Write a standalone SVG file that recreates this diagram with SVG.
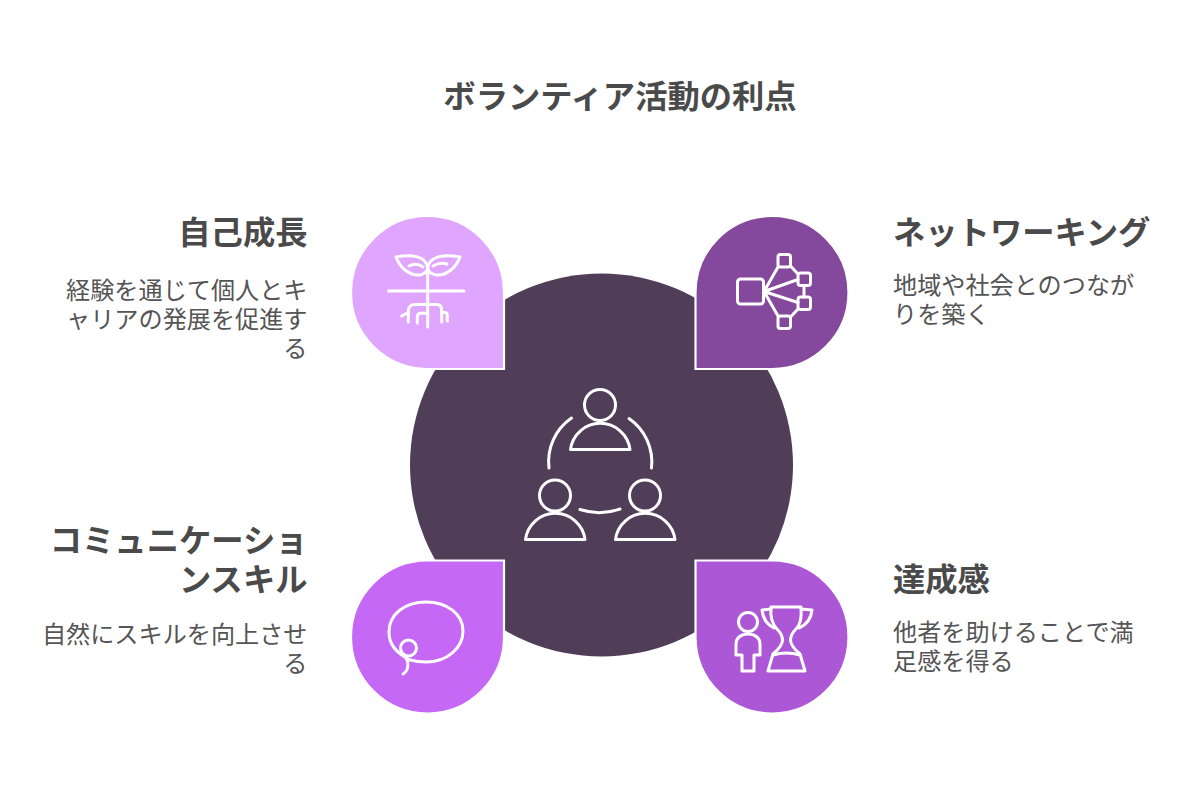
<svg xmlns="http://www.w3.org/2000/svg" width="1200" height="802" viewBox="0 0 1200 802">
<style>
text{font-family:"Noto Sans CJK JP","Noto Sans",sans-serif}
.t{font-size:32.3px;font-weight:700;fill:#4a4a4a}
.b{font-size:24.15px;font-weight:400;fill:#555}
.e{text-anchor:end}
.p{stroke:#fff;stroke-width:2.2}
.i{fill:none;stroke:#fff;stroke-width:3;stroke-linecap:round;stroke-linejoin:round}
</style>
<rect width="1200" height="802" fill="#fff"/>
<text id="title" class="t" x="620" y="108" text-anchor="middle">ボランティア活動の利点</text>
<g id="center">
<circle cx="601.500" cy="465" r="191.500" fill="#503d57"/>
<g class="i">
<circle cx="600" cy="405" r="15.500"/>
<path d="M570.500 449.500A30 30 0 0 1 630 449.500Z"/>
<circle cx="555" cy="495.500" r="15.500"/>
<path d="M525.500 539.500A30 30 0 0 1 585 539.500Z"/>
<circle cx="645" cy="495.500" r="15.500"/>
<path d="M615.500 539.500A30 30 0 0 1 675 539.500Z"/>
<path d="M549 468A53 53 0 0 1 571.500 418"/>
<path d="M629 418.500A53 53 0 0 1 651.500 468"/>
<path d="M580 509.500Q600 516 620 509"/>
</g>
</g>
<g id="node-growth">
<path class="p" fill="#e0a6ff" d="M504 292.500A76.500 76.500 0 1 0 427.500 369H504Z"/>
<g class="i">
<path d="M388.500 291H464"/>
<path d="M427.700 268V327"/>
<path d="M427.700 268C426 256 412 254 396 257C400 268 410 276 420 275C425 274 427 272 427.700 268Z"/>
<path d="M427.700 268C429 256 444 254 460 257C456 268 446 276 436 275C431 274 428.500 272 427.700 268Z"/>
<path d="M409 266Q416 262 423 267"/>
<path d="M433 266Q440 262 447 264"/>
<path d="M408.300 322V311C408.300 307 411 304.500 415 304.500H437C440 304.500 441.700 307 441.700 311V322"/>
<path d="M401.700 316L408.300 312.500M441.700 312.500H445C446.500 312.500 447.300 314 447.300 316V321"/>
<path d="M417.300 323V317C417.300 315 418.500 313.300 421 313.300H427.700"/>
</g>
<text class="t e" x="307.500" y="244">自己成長</text>
<text class="b e" x="307.500" y="299">経験を通じて個人とキ</text>
<text class="b e" x="307.500" y="328">ャリアの発展を促進す</text>
<text class="b e" x="307.500" y="357">る</text>
</g>
<g id="node-network">
<path class="p" fill="#84489c" d="M695.500 292.500A76.500 76.500 0 1 1 772 369H695.500Z"/>
<g class="i">
<rect x="737.500" y="279" width="26" height="25" rx="3"/>
<rect x="778" y="254.500" width="12.500" height="12.500" rx="2.500"/>
<rect x="798" y="273" width="12.500" height="12.500" rx="2.500"/>
<rect x="798" y="297" width="12.500" height="12.500" rx="2.500"/>
<rect x="778" y="316" width="12.500" height="12.500" rx="2.500"/>
<path d="M764 291.500L778 267M764 291.500L798 279.500M764 291.500L798 302.500M764 291.500L778 316M790.500 266L798 274M804 285.500V297M790.500 317L798 309"/>
</g>
<text class="t" x="893" y="244">ネットワーキング</text>
<text class="b" x="893" y="294">地域や社会とのつなが</text>
<text class="b" x="893" y="323">りを築く</text>
</g>
<g id="node-communication">
<path class="p" fill="#c468f5" d="M504 637A76.500 76.500 0 1 1 427.500 560.500H504Z"/>
<g class="i">
<path d="M410 660C395 652 389 644 389 632C389 614 405 602 426 602C447 602 463 614 463 631C463 648 447 662 426 662C419 662 414 661 410 660"/>
<circle cx="408.500" cy="648" r="8"/>
<path d="M405 656C410 664 408 671 403 674"/>
</g>
<text class="t e" x="307.500" y="552">コミュニケーショ</text>
<text class="t e" x="307.500" y="591">ンスキル</text>
<text class="b e" x="307.500" y="643">自然にスキルを向上させ</text>
<text class="b e" x="307.500" y="672">る</text>
</g>
<g id="node-achievement">
<path class="p" fill="#ac58d6" d="M695.500 560.500H772A76.500 76.500 0 1 1 695.500 637Z"/>
<g class="i">
<circle cx="748" cy="622" r="9.500"/>
<path d="M748 634C741 634 736 638 736 644V655H742V671H754V655H760V644C760 638 755 634 748 634Z"/>
<path d="M771 607H801C802 618 800 625 796 629C792 633 790.500 636 790.500 640C790.500 645 794 649 800 654L805 671H768L773 654C779 649 782.500 645 782.500 640C782.500 636 781 633 777 629C773 625 770 618 771 607Z"/>
<path d="M771 609L762 610C763 620 768 625 774 628M801 609L812 610C811 620 806 625 799 628"/>
<path d="M773 655Q786 651 800 655"/>
</g>
<text class="t" x="893" y="591">達成感</text>
<text class="b" x="893" y="641">他者を助けることで満</text>
<text class="b" x="893" y="670">足感を得る</text>
</g>
<g id="connectors"></g>
</svg>
